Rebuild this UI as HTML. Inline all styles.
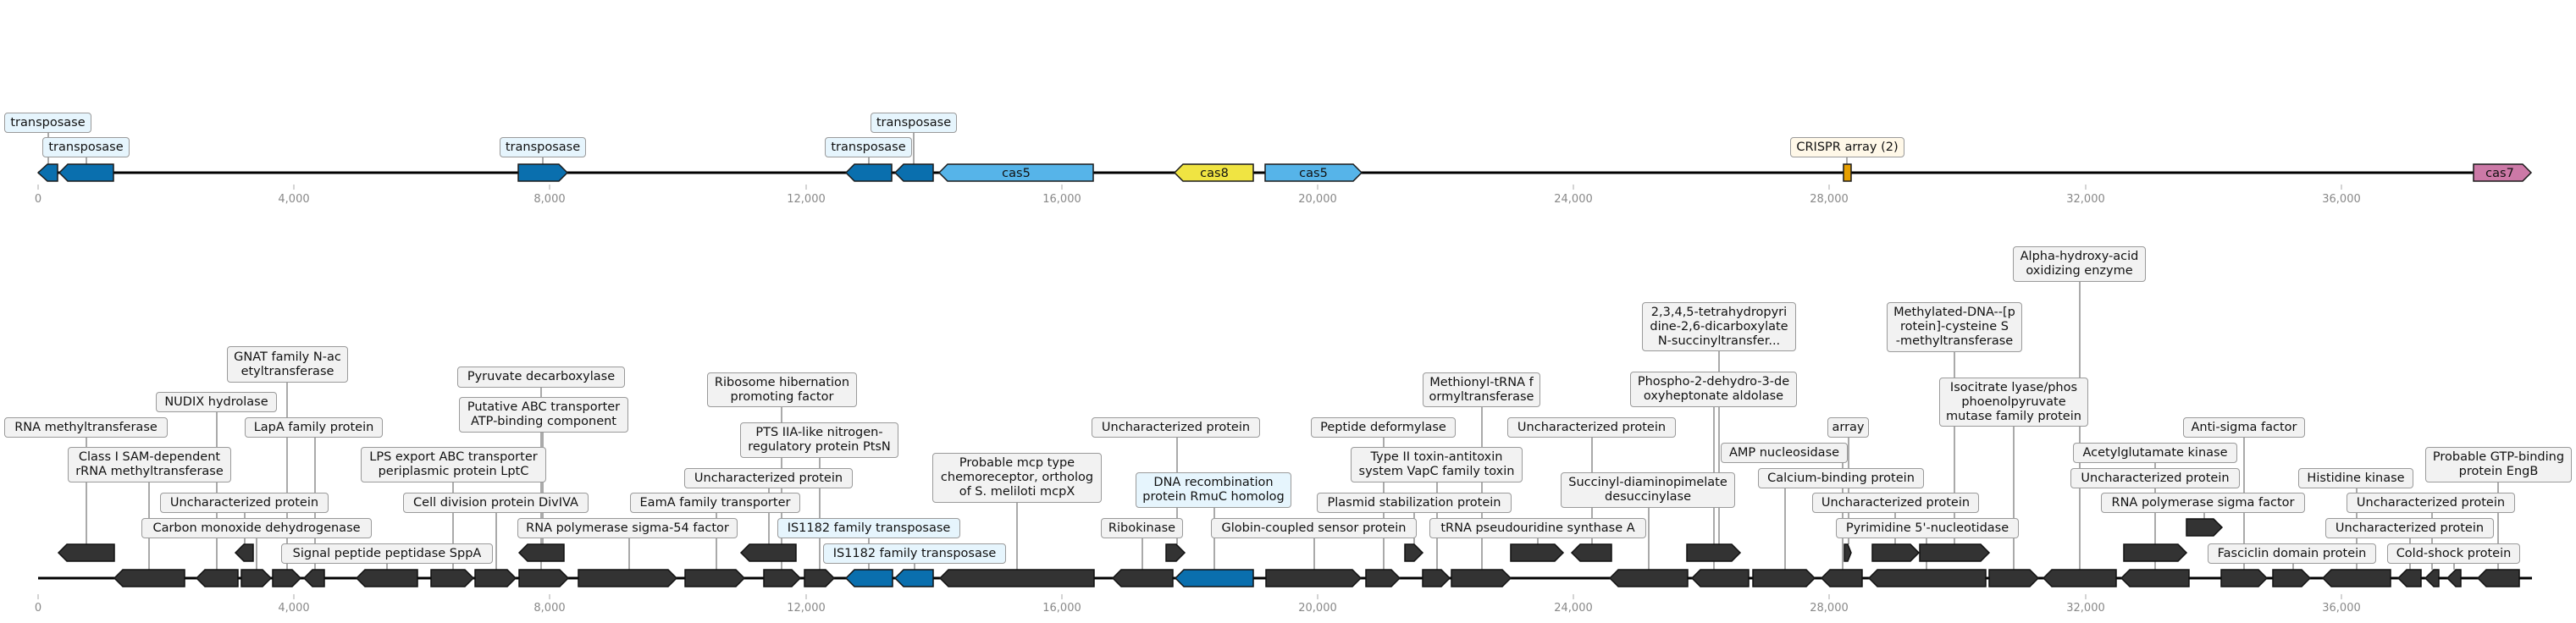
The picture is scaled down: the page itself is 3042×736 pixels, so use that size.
<!DOCTYPE html>
<html><head><meta charset="utf-8"><style>
body{margin:0;background:#fff;}
#c{position:relative;width:3042px;height:736px;overflow:hidden;font-family:"DejaVu Sans","Liberation Sans",sans-serif;}
svg{position:absolute;left:0;top:0;}
.b{position:absolute;box-sizing:border-box;border:1.5px solid #9a9a9a;border-radius:4px;background:#f2f2f2;font-size:14.5px;line-height:17px;color:#111;display:flex;align-items:center;justify-content:center;text-align:center;white-space:nowrap;overflow:visible;}
.bl{background:#e6f5fd;}
.cr{background:#fff8e8;}
.t{position:absolute;font-size:13px;color:#888;transform:translateX(-50%);}
</style></head><body><div id="c">
<svg width="3042" height="736" xmlns="http://www.w3.org/2000/svg">
<g stroke="#555" stroke-width="1">
<line x1="57" y1="156" x2="57" y2="194"/><line x1="102" y1="186" x2="102" y2="194"/><line x1="641" y1="186" x2="641" y2="194"/><line x1="1026" y1="186" x2="1026" y2="194"/><line x1="1079" y1="156" x2="1079" y2="194"/><line x1="2181" y1="186" x2="2181" y2="194"/>
<line x1="102" y1="517" x2="102" y2="643"/><line x1="176" y1="570" x2="176" y2="673"/><line x1="256" y1="487" x2="256" y2="673"/><line x1="339" y1="452" x2="339" y2="673"/><line x1="372" y1="517" x2="372" y2="673"/><line x1="289" y1="606" x2="289" y2="643"/><line x1="303" y1="636" x2="303" y2="673"/><line x1="457" y1="665" x2="457" y2="673"/>
<line x1="639" y1="458" x2="639" y2="673"/><line x1="641" y1="511" x2="641" y2="643"/><line x1="535" y1="570" x2="535" y2="673"/><line x1="586" y1="606" x2="586" y2="673"/><line x1="743" y1="636" x2="743" y2="673"/><line x1="846" y1="606" x2="846" y2="673"/>
<line x1="923" y1="481" x2="923" y2="673"/><line x1="968" y1="541" x2="968" y2="673"/><line x1="908" y1="577" x2="908" y2="643"/><line x1="1026" y1="636" x2="1026" y2="673"/><line x1="1080" y1="665" x2="1080" y2="673"/><line x1="1201" y1="594" x2="1201" y2="673"/><line x1="1390" y1="517" x2="1390" y2="643"/><line x1="1434" y1="600" x2="1434" y2="673"/><line x1="1349" y1="636" x2="1349" y2="673"/><line x1="1552" y1="636" x2="1552" y2="673"/>
<line x1="1634" y1="517" x2="1634" y2="673"/><line x1="1697" y1="570" x2="1697" y2="673"/><line x1="1670" y1="606" x2="1670" y2="643"/><line x1="1750" y1="481" x2="1750" y2="673"/><line x1="1816" y1="636" x2="1816" y2="643"/><line x1="1880" y1="517" x2="1880" y2="643"/><line x1="1947" y1="600" x2="1947" y2="673"/><line x1="2024" y1="481" x2="2024" y2="673"/><line x1="2030" y1="415" x2="2030" y2="643"/>
<line x1="2183" y1="517" x2="2183" y2="643"/><line x1="2176" y1="547" x2="2176" y2="673"/><line x1="2108" y1="577" x2="2108" y2="673"/><line x1="2238" y1="606" x2="2238" y2="643"/><line x1="2275" y1="636" x2="2275" y2="673"/>
<line x1="2456" y1="333" x2="2456" y2="673"/><line x1="2308" y1="416" x2="2308" y2="643"/><line x1="2378" y1="504" x2="2378" y2="673"/><line x1="2650" y1="517" x2="2650" y2="673"/><line x1="2545" y1="547" x2="2545" y2="673"/><line x1="2603" y1="606" x2="2603" y2="613"/><line x1="2783" y1="577" x2="2783" y2="673"/><line x1="2950" y1="570" x2="2950" y2="673"/><line x1="2872" y1="606" x2="2872" y2="673"/><line x1="2846" y1="636" x2="2846" y2="673"/><line x1="2708" y1="665" x2="2708" y2="673"/><line x1="2898" y1="665" x2="2898" y2="673"/>
</g>
<line x1="45" y1="204" x2="2921" y2="204" stroke="#000" stroke-width="3"/>
<line x1="45" y1="683" x2="2990" y2="683" stroke="#000" stroke-width="3"/>
<g stroke="#aaa" stroke-width="1">
<line x1="45" y1="218" x2="45" y2="224"/><line x1="347" y1="218" x2="347" y2="224"/><line x1="649" y1="218" x2="649" y2="224"/><line x1="952" y1="218" x2="952" y2="224"/><line x1="1254" y1="218" x2="1254" y2="224"/><line x1="1556" y1="218" x2="1556" y2="224"/><line x1="1858" y1="218" x2="1858" y2="224"/><line x1="2160" y1="218" x2="2160" y2="224"/><line x1="2463" y1="218" x2="2463" y2="224"/><line x1="2765" y1="218" x2="2765" y2="224"/>
<line x1="45" y1="702" x2="45" y2="708"/><line x1="347" y1="702" x2="347" y2="708"/><line x1="649" y1="702" x2="649" y2="708"/><line x1="952" y1="702" x2="952" y2="708"/><line x1="1254" y1="702" x2="1254" y2="708"/><line x1="1556" y1="702" x2="1556" y2="708"/><line x1="1858" y1="702" x2="1858" y2="708"/><line x1="2160" y1="702" x2="2160" y2="708"/><line x1="2463" y1="702" x2="2463" y2="708"/><line x1="2765" y1="702" x2="2765" y2="708"/>
</g>
<g stroke="#1a1a1a" stroke-width="1.5" stroke-linejoin="miter">
<!-- top track -->
<polygon fill="#0a6fae" points="45,204 56,194 68,194 68,214 56,214"/>
<polygon fill="#0a6fae" points="70,204 80,194 134,194 134,214 80,214"/>
<polygon fill="#0a6fae" points="612,194 660,194 670,204 660,214 612,214"/>
<polygon fill="#0a6fae" points="999,204 1009,194 1053,194 1053,214 1009,214"/>
<polygon fill="#0a6fae" points="1057,204 1067,194 1102,194 1102,214 1067,214"/>
<polygon fill="#56b4e9" points="1109,204 1119,194 1291,194 1291,214 1119,214"/>
<polygon fill="#f0e442" points="1387,204 1397,194 1480,194 1480,214 1397,214"/>
<polygon fill="#56b4e9" points="1494,194 1598,194 1608,204 1598,214 1494,214"/>
<rect fill="#e69f00" x="2177" y="194" width="9" height="20"/>
<polygon fill="#cc79a7" points="2921,194 2979,194 2989,204 2979,214 2921,214"/>
</g>
<g fill="#333" stroke="#111" stroke-width="1.5">
<!-- main row -->
<polygon points="135,683 145,673 218,673 218,693 145,693"/>
<polygon points="232,683 242,673 281,673 281,693 242,693"/>
<polygon points="285,673 310,673 320,683 310,693 285,693"/>
<polygon points="322,673 345,673 355,683 345,693 322,693"/>
<polygon points="359,683 369,673 383,673 383,693 369,693"/>
<polygon points="421,683 431,673 493,673 493,693 431,693"/>
<polygon points="509,673 549,673 559,683 549,693 509,693"/>
<polygon points="561,673 599,673 609,683 599,693 561,693"/>
<polygon points="613,673 661,673 671,683 661,693 613,693"/>
<polygon points="683,673 789,673 799,683 789,693 683,693"/>
<polygon points="809,673 869,673 879,683 869,693 809,693"/>
<polygon points="902,673 935,673 945,683 935,693 902,693"/>
<polygon points="950,673 975,673 985,683 975,693 950,693"/>
<polygon fill="#0a6fae" points="999,683 1009,673 1054,673 1054,693 1009,693"/>
<polygon fill="#0a6fae" points="1057,683 1067,673 1102,673 1102,693 1067,693"/>
<polygon points="1110,683 1120,673 1292,673 1292,693 1120,693"/>
<polygon points="1314,683 1324,673 1385,673 1385,693 1324,693"/>
<polygon fill="#0a6fae" points="1388,683 1398,673 1480,673 1480,693 1398,693"/>
<polygon points="1495,673 1597,673 1607,683 1597,693 1495,693"/>
<polygon points="1613,673 1643,673 1653,683 1643,693 1613,693"/>
<polygon points="1680,673 1702,673 1712,683 1702,693 1680,693"/>
<polygon points="1714,673 1774,673 1784,683 1774,693 1714,693"/>
<polygon points="1901,683 1911,673 1993,673 1993,693 1911,693"/>
<polygon points="1998,683 2008,673 2065,673 2065,693 2008,693"/>
<polygon points="2070,673 2133,673 2143,683 2133,693 2070,693"/>
<polygon points="2151,683 2161,673 2199,673 2199,693 2161,693"/>
<polygon points="2207,683 2217,673 2345,673 2345,693 2217,693"/>
<polygon points="2349,673 2397,673 2407,683 2397,693 2349,693"/>
<polygon points="2413,683 2423,673 2499,673 2499,693 2423,693"/>
<polygon points="2505,683 2515,673 2585,673 2585,693 2515,693"/>
<polygon points="2623,673 2667,673 2677,683 2667,693 2623,693"/>
<polygon points="2684,673 2718,673 2728,683 2718,693 2684,693"/>
<polygon points="2743,683 2753,673 2823,673 2823,693 2753,693"/>
<polygon points="2832,683 2842,673 2859,673 2859,693 2842,693"/>
<polygon points="2864,683 2874,673 2880,673 2880,693 2874,693"/>
<polygon points="2890,683 2900,673 2906,673 2906,693 2900,693"/>
<polygon points="2926,683 2936,673 2975,673 2975,693 2936,693"/>
<!-- upper row -->
<polygon points="69,653 79,643 135,643 135,663 79,663"/>
<polygon points="278,653 288,643 299,643 299,663 288,663"/>
<polygon points="613,653 623,643 666,643 666,663 623,663"/>
<polygon points="875,653 885,643 940,643 940,663 885,663"/>
<polygon points="1377,643 1389,643 1399,653 1389,663 1377,663"/>
<polygon points="1659,643 1670,643 1680,653 1670,663 1659,663"/>
<polygon points="1784,643 1836,643 1846,653 1836,663 1784,663"/>
<polygon points="1856,653 1866,643 1903,643 1903,663 1866,663"/>
<polygon points="1992,643 2045,643 2055,653 2045,663 1992,663"/>
<polygon points="2178,643 2182,643 2186,653 2182,663 2178,663"/>
<polygon points="2211,643 2256,643 2266,653 2256,663 2211,663"/>
<polygon points="2267,643 2339,643 2349,653 2339,663 2267,663"/>
<polygon points="2508,643 2572,643 2582,653 2572,663 2508,663"/>
<polygon points="2582,613 2614,613 2624,623 2614,633 2582,633"/>
</g>
<g font-family="DejaVu Sans, Liberation Sans, sans-serif" font-size="14.5" fill="#111" text-anchor="middle">
<text x="1200" y="209">cas5</text><text x="1434" y="209">cas8</text><text x="1551" y="209">cas5</text><text x="2952" y="209">cas7</text>
</g>
</svg>
<div class="t" style="left:45px;top:228px">0</div><div class="t" style="left:347px;top:228px">4,000</div><div class="t" style="left:649px;top:228px">8,000</div><div class="t" style="left:952px;top:228px">12,000</div><div class="t" style="left:1254px;top:228px">16,000</div><div class="t" style="left:1556px;top:228px">20,000</div><div class="t" style="left:1858px;top:228px">24,000</div><div class="t" style="left:2160px;top:228px">28,000</div><div class="t" style="left:2463px;top:228px">32,000</div><div class="t" style="left:2765px;top:228px">36,000</div>
<div class="t" style="left:45px;top:711px">0</div><div class="t" style="left:347px;top:711px">4,000</div><div class="t" style="left:649px;top:711px">8,000</div><div class="t" style="left:952px;top:711px">12,000</div><div class="t" style="left:1254px;top:711px">16,000</div><div class="t" style="left:1556px;top:711px">20,000</div><div class="t" style="left:1858px;top:711px">24,000</div><div class="t" style="left:2160px;top:711px">28,000</div><div class="t" style="left:2463px;top:711px">32,000</div><div class="t" style="left:2765px;top:711px">36,000</div>

<div class="b bl" style="left:5px;top:133px;width:103px;height:24px">transposase</div>
<div class="b bl" style="left:50px;top:162px;width:103px;height:24px">transposase</div>
<div class="b bl" style="left:590px;top:162px;width:102px;height:24px">transposase</div>
<div class="b bl" style="left:974px;top:162px;width:103px;height:24px">transposase</div>
<div class="b bl" style="left:1028px;top:133px;width:102px;height:24px">transposase</div>
<div class="b cr" style="left:2114px;top:162px;width:135px;height:24px">CRISPR array (2)</div>

<div class="b" style="left:5px;top:493px;width:193px;height:24px">RNA methyltransferase</div>
<div class="b" style="left:80px;top:528px;width:193px;height:42px">Class I SAM-dependent<br>rRNA methyltransferase</div>
<div class="b" style="left:184px;top:463px;width:143px;height:24px">NUDIX hydrolase</div>
<div class="b" style="left:268px;top:409px;width:143px;height:43px">GNAT family N-ac<br>etyltransferase</div>
<div class="b" style="left:289px;top:493px;width:163px;height:24px">LapA family protein</div>
<div class="b" style="left:189px;top:582px;width:199px;height:24px">Uncharacterized protein</div>
<div class="b" style="left:167px;top:612px;width:272px;height:24px">Carbon monoxide dehydrogenase</div>
<div class="b" style="left:332px;top:642px;width:250px;height:24px">Signal peptide peptidase SppA</div>
<div class="b" style="left:540px;top:433px;width:198px;height:25px">Pyruvate decarboxylase</div>
<div class="b" style="left:542px;top:469px;width:200px;height:42px">Putative ABC transporter<br>ATP-binding component</div>
<div class="b" style="left:426px;top:528px;width:219px;height:42px">LPS export ABC transporter<br>periplasmic protein LptC</div>
<div class="b" style="left:476px;top:582px;width:219px;height:24px">Cell division protein DivIVA</div>
<div class="b" style="left:611px;top:612px;width:260px;height:24px">RNA polymerase sigma-54 factor</div>
<div class="b" style="left:744px;top:582px;width:201px;height:24px">EamA family transporter</div>
<div class="b" style="left:835px;top:440px;width:177px;height:41px">Ribosome hibernation<br>promoting factor</div>
<div class="b" style="left:874px;top:499px;width:187px;height:42px">PTS IIA-like nitrogen-<br>regulatory protein PtsN</div>
<div class="b" style="left:808px;top:553px;width:199px;height:24px">Uncharacterized protein</div>
<div class="b bl" style="left:918px;top:612px;width:216px;height:24px">IS1182 family transposase</div>
<div class="b bl" style="left:972px;top:642px;width:216px;height:24px">IS1182 family transposase</div>
<div class="b" style="left:1101px;top:535px;width:200px;height:59px">Probable mcp type<br>chemoreceptor, ortholog<br>of S. meliloti mcpX</div>
<div class="b" style="left:1289px;top:493px;width:199px;height:24px">Uncharacterized protein</div>
<div class="b bl" style="left:1341px;top:558px;width:184px;height:42px">DNA recombination<br>protein RmuC homolog</div>
<div class="b" style="left:1300px;top:612px;width:97px;height:24px">Ribokinase</div>
<div class="b" style="left:1430px;top:612px;width:243px;height:24px">Globin-coupled sensor protein</div>
<div class="b" style="left:1548px;top:493px;width:171px;height:24px">Peptide deformylase</div>
<div class="b" style="left:1595px;top:528px;width:203px;height:42px">Type II toxin-antitoxin<br>system VapC family toxin</div>
<div class="b" style="left:1555px;top:582px;width:230px;height:24px">Plasmid stabilization protein</div>
<div class="b" style="left:1680px;top:440px;width:139px;height:41px">Methionyl-tRNA f<br>ormyltransferase</div>
<div class="b" style="left:1688px;top:612px;width:256px;height:24px">tRNA pseudouridine synthase A</div>
<div class="b" style="left:1780px;top:493px;width:199px;height:24px">Uncharacterized protein</div>
<div class="b" style="left:1843px;top:558px;width:206px;height:42px">Succinyl-diaminopimelate<br>desuccinylase</div>
<div class="b" style="left:1925px;top:439px;width:197px;height:42px">Phospho-2-dehydro-3-de<br>oxyheptonate aldolase</div>
<div class="b" style="left:1939px;top:357px;width:182px;height:58px">2,3,4,5-tetrahydropyri<br>dine-2,6-dicarboxylate<br>N-succinyltransfer...</div>
<div class="b" style="left:2158px;top:493px;width:49px;height:24px">array</div>
<div class="b" style="left:2032px;top:523px;width:150px;height:24px">AMP nucleosidase</div>
<div class="b" style="left:2076px;top:553px;width:196px;height:24px">Calcium-binding protein</div>
<div class="b" style="left:2140px;top:582px;width:197px;height:24px">Uncharacterized protein</div>
<div class="b" style="left:2168px;top:612px;width:216px;height:24px">Pyrimidine 5'-nucleotidase</div>
<div class="b" style="left:2377px;top:291px;width:157px;height:42px">Alpha-hydroxy-acid<br>oxidizing enzyme</div>
<div class="b" style="left:2228px;top:357px;width:160px;height:59px">Methylated-DNA--[p<br>rotein]-cysteine S<br>-methyltransferase</div>
<div class="b" style="left:2290px;top:446px;width:176px;height:58px">Isocitrate lyase/phos<br>phoenolpyruvate<br>mutase family protein</div>
<div class="b" style="left:2578px;top:493px;width:144px;height:24px">Anti-sigma factor</div>
<div class="b" style="left:2448px;top:523px;width:194px;height:24px">Acetylglutamate kinase</div>
<div class="b" style="left:2445px;top:553px;width:200px;height:24px">Uncharacterized protein</div>
<div class="b" style="left:2481px;top:582px;width:241px;height:24px">RNA polymerase sigma factor</div>
<div class="b" style="left:2714px;top:553px;width:136px;height:24px">Histidine kinase</div>
<div class="b" style="left:2864px;top:528px;width:173px;height:42px">Probable GTP-binding<br>protein EngB</div>
<div class="b" style="left:2771px;top:582px;width:199px;height:24px">Uncharacterized protein</div>
<div class="b" style="left:2746px;top:612px;width:199px;height:24px">Uncharacterized protein</div>
<div class="b" style="left:2607px;top:642px;width:199px;height:24px">Fasciclin domain protein</div>
<div class="b" style="left:2819px;top:642px;width:157px;height:24px">Cold-shock protein</div>
</div></body></html>
